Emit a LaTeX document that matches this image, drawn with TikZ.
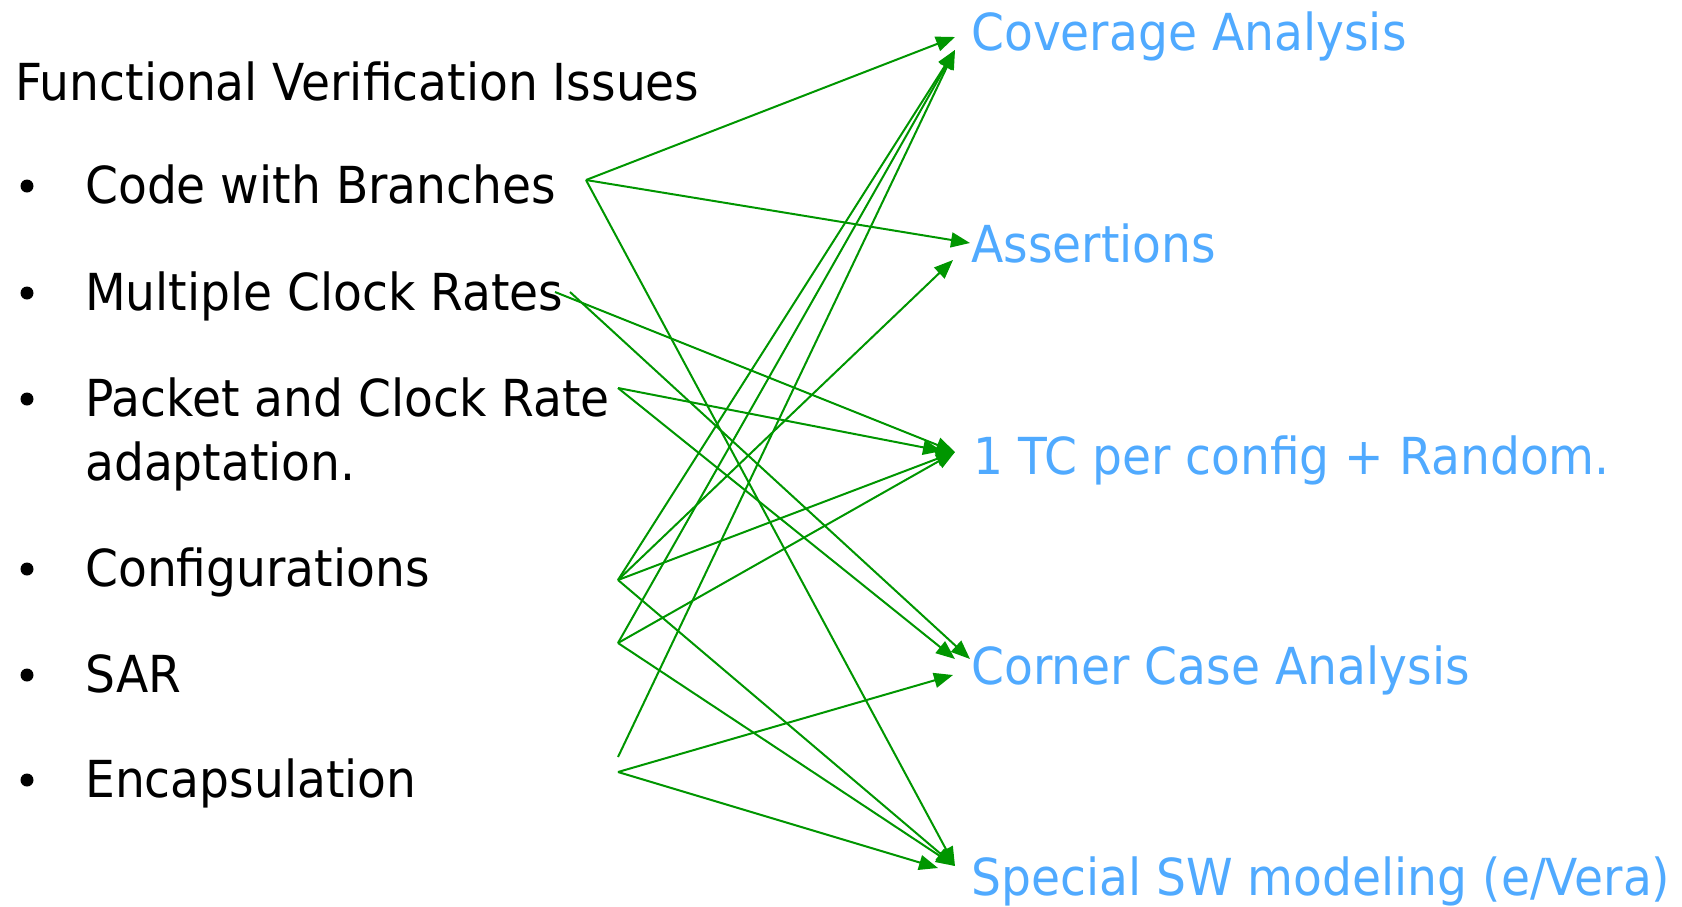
\documentclass[tikz,border=0pt]{standalone}
\usepackage{fontspec}
\setmainfont{DejaVu Sans}[FakeStretch=0.925]
\usetikzlibrary{arrows.meta}
\definecolor{linkgreen}{RGB}{0,150,0}
\definecolor{goalblue}{RGB}{80,170,255}

\begin{document}
\begin{tikzpicture}[x=1pt,y=-1pt,
		issue/.style={anchor=base west,inner sep=0pt,font=\fontsize{51}{60}\selectfont},
		goal/.style={issue,text=goalblue},
		dot/.style={circle,fill=black,inner sep=0pt,minimum size=13pt},
		link/.style={draw=linkgreen,line width=2pt,-{Triangle[length=19pt,width=15pt]}}]
		
		\useasboundingbox (0,0) rectangle (1682,906);
		
		% left column
		\node[issue] (title) at (15,100) {Functional Verification Issues};
		\node[issue] (branches) at (85,203) {Code with Branches};
		\node[issue] (clocks) at (85,310) {Multiple Clock Rates};
		\node[issue] (packet) at (85,416) {Packet and Clock Rate};
		\node[issue] (adapt) at (85,480) {adaptation.};
		\node[issue] (configs) at (85,586) {Configurations};
		\node[issue] (sar) at (85,692) {SAR};
		\node[issue] (encaps) at (85,797) {Encapsulation};
		\foreach \y in {186,293,399,569,675,780}
		\node[dot] at (27,\y) {};
		
		% right column
		\node[goal] (coverage) at (971,50) {Coverage Analysis};
		\node[goal] (assertions) at (971,262) {Assertions};
		\node[goal] (tcrandom) at (973,474) {1 TC per config + Random.};
		\node[goal] (corner) at (971,684) {Corner Case Analysis};
		\node[goal] (swmodel) at (971,895) {Special SW modeling (e/Vera)};
		
		% connector ends
		\coordinate (b) at (586,180);
		\coordinate (m1) at (555,292);
		\coordinate (m2) at (570,292);
		\coordinate (p) at (618,388);
		\coordinate (c) at (618,580);
		\coordinate (s) at (618,643);
		\coordinate (e1) at (618,757);
		\coordinate (e2) at (618,772);
		\coordinate (cov1) at (955,37);
		\coordinate (cov2) at (955,50);
		\coordinate (ass1) at (970,243);
		\coordinate (ass2) at (953,260);
		\coordinate (tc1) at (955,452);
		\coordinate (tc2) at (942,451);
		\coordinate (cc1) at (970,659);
		\coordinate (cc2) at (955,659);
		\coordinate (cc3) at (953,675);
		\coordinate (sw1) at (955,866);
		\coordinate (sw2) at (938,868);
		
		\path[every edge/.style={link}]
		(b) edge (cov1) edge (ass1) edge (sw1)
		(m1) edge (tc1)
		(m2) edge (cc1)
		(p) edge (tc2) edge (cc2)
		(c) edge (cov2) edge (ass2) edge (tc1) edge (sw1)
		(s) edge (cov2) edge (tc1) edge (sw1)
		(e1) edge (cov2)
		(e2) edge (cc3) edge (sw2);
\end{tikzpicture}
\end{document}
